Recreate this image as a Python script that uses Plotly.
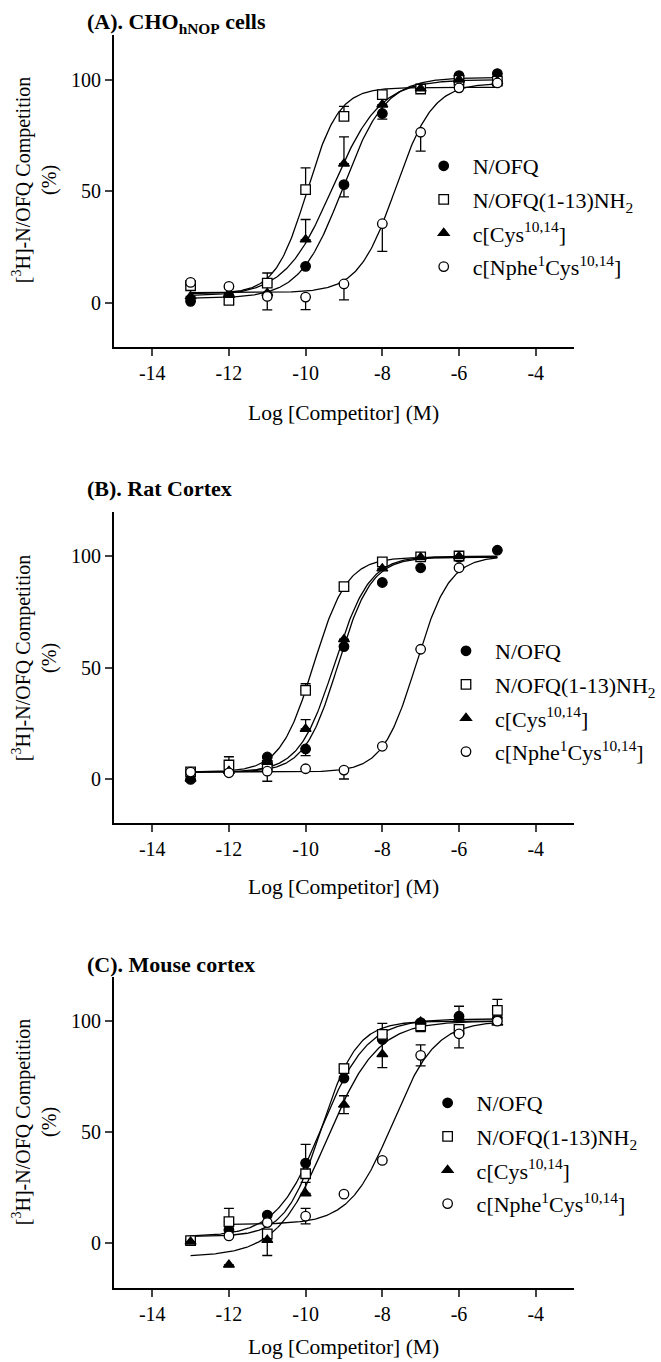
import numpy as np
import plotly.graph_objects as go

# ---------------- data ----------------
log_conc = [-13, -12, -11, -10, -9, -8, -7, -6, -5]
series_names = ["N/OFQ", "N/OFQ(1-13)NH<sub>2</sub>", "c[Cys<sup>10,14</sup>]",
                "c[Nphe<sup>1</sup>Cys<sup>10,14</sup>]"]

# Panel A: CHO hNOP cells
A_nofq = [0.6, 3.0, 3.3, 16.3, 52.9, 84.8, 96.0, 101.8, 102.7]
A_nh2 = [7.6, 1.0, 8.8, 50.7, 83.5, 93.3, 95.8, 99.7, 99.3]
A_cys = [2.8, 3.5, 4.3, 28.3, 62.3, 88.8, 96.0, 100.0, 99.3]
A_nphe = [9.1, 7.3, 2.8, 2.5, 8.4, 35.4, 76.4, 96.3, 98.5]
A_nofq_up = [0, 0, 0, 0, 0, 0, 0, 0, 0]
A_nofq_dn = [0, 0, 0, 0, 5.5, 2.5, 0, 0, 0]
A_nh2_up = [0, 0, 4.5, 9.7, 4.5, 0, 0, 0, 0]
A_nh2_dn = [0, 0, 0, 0, 0, 0, 0, 0, 0]
A_cys_up = [0, 0, 0, 9.0, 12.0, 0, 0, 0, 0]
A_cys_dn = [0, 0, 0, 0, 0, 0, 0, 0, 0]
A_nphe_up = [0, 0, 0, 0, 0, 0, 0, 0, 0]
A_nphe_dn = [0, 0, 6.0, 5.6, 7.1, 12.4, 8.5, 0, 0]

# Panel B: rat cortex
B_nofq = [-0.3, 3.0, 9.8, 13.4, 59.4, 88.2, 94.8, 99.5, 102.7]
B_nh2 = [3.1, 6.2, 6.0, 39.7, 86.3, 97.5, 99.7, 100.1, None]
B_cys = [0.0, 3.5, 7.5, 22.4, 62.7, 94.5, 99.5, 100.0, None]
B_nphe = [3.0, 2.7, 3.4, 4.5, 3.9, 14.6, 58.2, 94.8, None]
B_nofq_up = [0, 0, 0, 0, 0, 0, 0, 0, 0]
B_nofq_dn = [0, 0, 0, 3.0, 0, 0, 0, 0, 0]
B_nh2_up = [0, 3.7, 0, 3.0, 0, 0, 0, 0, 0]
B_nh2_dn = [0, 0, 0, 0, 0, 0, 0, 0, 0]
B_cys_up = [0, 0, 0, 4.2, 0, 0, 0, 0, 0]
B_cys_dn = [0, 0, 0, 0, 0, 0, 0, 0, 0]
B_nphe_up = [0, 0, 0, 0, 0, 0, 0, 0, 0]
B_nphe_dn = [0, 0, 4.5, 0, 4.0, 0, 0, 0, 0]

# Panel C: mouse cortex
C_nofq = [1.2, 6.0, 12.7, 36.1, 74.3, 91.8, 99.3, 102.2, 101.5]
C_nh2 = [1.2, 9.7, 4.2, 31.3, 78.6, 94.0, 97.8, 96.3, 104.8]
C_cys = [0.7, -9.7, 1.5, 22.4, 62.4, 85.1, 99.7, 101.5, 99.3]
C_nphe = [None, 3.3, 9.3, 12.2, 22.1, 37.3, 84.6, 94.3, 100.0]
C_nofq_up = [0, 0, 0, 8.4, 0, 0, 0, 4.5, 0]
C_nofq_dn = [0, 0, 0, 0, 0, 0, 0, 0, 0]
C_nh2_up = [0, 6.0, 0, 0, 2.0, 5.0, 0, 0, 5.0]
C_nh2_dn = [1.0, 0, 0, 0, 0, 0, 2.5, 8.3, 0]
C_cys_up = [0, 0, 0, 5.0, 4.0, 6.0, 0, 0, 0]
C_cys_dn = [0, 0, 7.0, 0, 4.0, 6.0, 0, 0, 0]
C_nphe_up = [0, 0, 0, 3.5, 0, 0, 4.7, 0, 0]
C_nphe_dn = [0, 0, 0, 3.5, 0, 0, 4.7, 0, 0]

# fitted sigmoid parameters: [bottom, top, logIC50, hill]
A_fit = {"nofq": [2, 101, -9.03, 0.78], "nh2": [4, 96.5, -9.96, 1.05],
         "cys": [3, 100, -9.30, 0.70], "nphe": [4.5, 98.5, -7.65, 0.90]}
B_fit = {"nofq": [3, 99.5, -9.155, 1.0], "nh2": [3, 99.5, -9.79, 1.0],
         "cys": [3, 100, -9.25, 0.95], "nphe": [3, 100, -7.12, 1.0]}
C_fit = {"nofq": [3, 101, -9.58, 0.73], "nh2": [3, 100, -9.59, 0.93],
         "cys": [-6, 100, -9.44, 0.66], "nphe": [8.5, 100, -7.73, 0.775]}

panel_titles = ["<b>(A). CHO<sub>hNOP</sub> cells</b>", "<b>(B). Rat Cortex</b>",
                "<b>(C). Mouse cortex</b>"]
x_title = "Log [Competitor] (M)"
y_title = "[<sup>3</sup>H]-N/OFQ Competition<br>(%)"
x_ticks = [-14, -12, -10, -8, -6, -4]
x_ticktext = ["-14", "-12", "-10", "-8", "-6", "-4"]
y_ticks = [0, 50, 100]

# ---------------- layout geometry ----------------
W, H = 661, 1362
FONT = "Liberation Serif"
x_dom = [116.7 / W, 588.3 / W]
panels_px = [(35, 347.3), (511.7, 823.3), (976.7, 1287.7)]
title_px = [(87, 23), (87, 488), (87, 965)]
ytitle_px = [(35, 180), (35, 658), (35, 1122)]
xtitle_py = [413, 887, 1347]
legend_px = [(425, 145), (448, 630), (429, 1082)]

keys = ["nofq", "nh2", "cys", "nphe"]
symbols = ["circle", "square", "triangle-up", "circle"]
fills = ["black", "white", "black", "white"]

panel_data = [
    ([A_nofq, A_nh2, A_cys, A_nphe],
     [(A_nofq_up, A_nofq_dn), (A_nh2_up, A_nh2_dn), (A_cys_up, A_cys_dn), (A_nphe_up, A_nphe_dn)],
     A_fit),
    ([B_nofq, B_nh2, B_cys, B_nphe],
     [(B_nofq_up, B_nofq_dn), (B_nh2_up, B_nh2_dn), (B_cys_up, B_cys_dn), (B_nphe_up, B_nphe_dn)],
     B_fit),
    ([C_nofq, C_nh2, C_cys, C_nphe],
     [(C_nofq_up, C_nofq_dn), (C_nh2_up, C_nh2_dn), (C_cys_up, C_cys_dn), (C_nphe_up, C_nphe_dn)],
     C_fit),
]


def sigmoid(x, p):
    bottom, top, ec, hill = p
    return bottom + (top - bottom) / (1 + 10 ** ((ec - x) * hill))


fig = go.Figure()
annotations = []
layout = {}

for i, (vals, errs, fit) in enumerate(panel_data):
    n = "" if i == 0 else str(i + 1)
    xa, ya = "x" + n, "y" + n
    leg = "legend" + n
    # fitted curves, drawn over the concentration range that has data
    for j, k in enumerate(keys):
        xs = [x for x, v in zip(log_conc, vals[j]) if v is not None]
        xc = np.linspace(min(xs), max(log_conc), 300)
        fig.add_trace(go.Scatter(x=xc, y=sigmoid(xc, fit[k]), mode="lines",
                                 line=dict(color="black", width=1.3),
                                 xaxis=xa, yaxis=ya, showlegend=False, hoverinfo="skip"))
    # points
    for j, k in enumerate(keys):
        up, dn = errs[j]
        fig.add_trace(go.Scatter(
            x=log_conc, y=vals[j], mode="markers", name=series_names[j],
            xaxis=xa, yaxis=ya, legend=leg, legendgroup=f"{i}{k}",
            marker=dict(symbol=symbols[j], size=9.5, color=fills[j],
                        line=dict(color="black", width=1.3)),
            error_y=dict(type="data", symmetric=False, array=up, arrayminus=dn,
                         color="black", thickness=1.3, width=5),
        ))
    top_px, bot_px = panels_px[i]
    layout["xaxis" + n] = dict(domain=x_dom, range=[-15, -3], anchor=ya,
                               tickvals=x_ticks, ticktext=x_ticktext,
                               ticks="outside", ticklen=7, tickwidth=1.5,
                               showline=True, linewidth=2, linecolor="black",
                               showgrid=False, zeroline=False,
                               tickfont=dict(family=FONT, size=20, color="black"))
    layout["yaxis" + n] = dict(domain=[1 - bot_px / H, 1 - top_px / H], range=[-20, 120],
                               anchor=xa, tickvals=y_ticks, ticks="outside", ticklen=7,
                               tickwidth=1.5, showline=True, linewidth=2, linecolor="black",
                               showgrid=False, zeroline=False,
                               tickfont=dict(family=FONT, size=20, color="black"))
    lx, ly = legend_px[i]
    layout[leg] = dict(x=lx / W, y=1 - ly / H, xanchor="left", yanchor="top",
                       font=dict(family=FONT, size=22, color="black"),
                       bgcolor="rgba(0,0,0,0)", borderwidth=0, tracegroupgap=2,
                       itemwidth=48)
    tx, ty = title_px[i]
    annotations.append(dict(text=panel_titles[i], x=tx / W, y=1 - ty / H, xref="paper",
                            yref="paper", xanchor="left", yanchor="middle", showarrow=False,
                            font=dict(family=FONT, size=22, color="black")))
    yx, yy = ytitle_px[i]
    annotations.append(dict(text=y_title, x=yx / W, y=1 - yy / H, xref="paper", yref="paper",
                            xanchor="center", yanchor="middle", showarrow=False,
                            textangle=-90, font=dict(family=FONT, size=20, color="black")))
    annotations.append(dict(text=x_title, x=(x_dom[0] + x_dom[1]) / 2, y=1 - xtitle_py[i] / H,
                            xref="paper", yref="paper", xanchor="center", yanchor="middle",
                            showarrow=False, font=dict(family=FONT, size=21.5, color="black")))

fig.update_layout(width=W, height=H, margin=dict(l=0, r=0, t=0, b=0),
                  paper_bgcolor="white", plot_bgcolor="white",
                  annotations=annotations, **layout)

fig.write_html("out.html")
